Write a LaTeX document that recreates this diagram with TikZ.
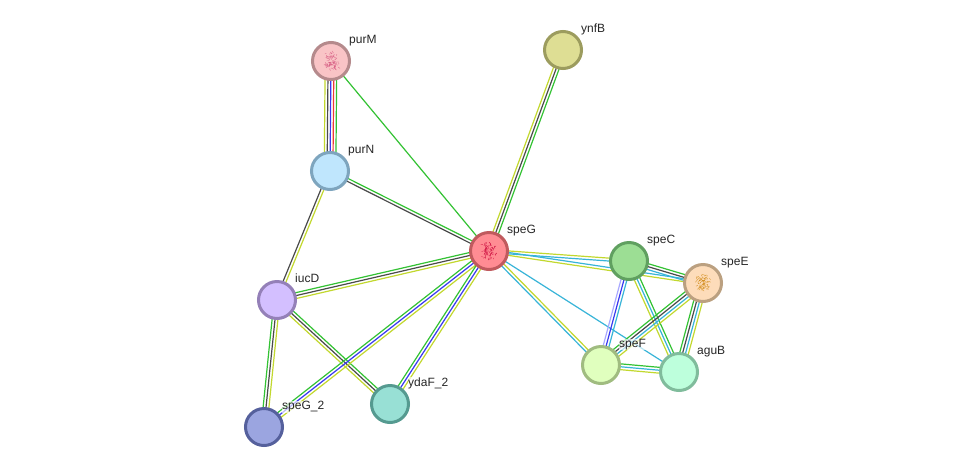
\documentclass[tikz,border=0pt]{standalone}
\usepackage{fontspec}
\setmainfont{Liberation Sans}
\usetikzlibrary{calc,backgrounds}
\definecolor{lgreen}{HTML}{33C233}
\definecolor{ldark}{HTML}{4A4A4A}
\definecolor{lyellow}{HTML}{C2D82E}
\definecolor{lblue}{HTML}{3838F0}
\definecolor{lred}{HTML}{F03838}
\definecolor{lcyan}{HTML}{38B4D8}
\definecolor{llav}{HTML}{A8A8FF}
\definecolor{purMf}{HTML}{F9C4C6}\definecolor{purMd}{HTML}{B58A8C}
\definecolor{purNf}{HTML}{BFE6FD}\definecolor{purNd}{HTML}{7EA5BE}
\definecolor{speGf}{HTML}{FF8C93}\definecolor{speGd}{HTML}{C05A5E}
\definecolor{ynfBf}{HTML}{DEDE94}\definecolor{ynfBd}{HTML}{9C9C5E}
\definecolor{iucDf}{HTML}{D3BFFF}\definecolor{iucDd}{HTML}{9480B8}
\definecolor{spgTf}{HTML}{9BA5E0}\definecolor{spgTd}{HTML}{55609C}
\definecolor{ydaFf}{HTML}{98E0D5}\definecolor{ydaFd}{HTML}{559A90}
\definecolor{speCf}{HTML}{9CDE94}\definecolor{speCd}{HTML}{60A060}
\definecolor{speEf}{HTML}{FDDCBA}\definecolor{speEd}{HTML}{BBA080}
\definecolor{speFf}{HTML}{E0FFBE}\definecolor{speFd}{HTML}{A0BC80}
\definecolor{aguBf}{HTML}{BDFFDC}\definecolor{aguBd}{HTML}{80BC9C}
\tikzset{
  x=1pt,y=-1pt,
  protein/.style={circle,minimum size=37pt,inner sep=0pt,line width=3pt},
  tag/.style={anchor=base west,inner sep=0.5pt,font=\fontsize{12}{12}\selectfont,fill=white,fill opacity=0.65,text opacity=1,text=black!85},
  evidence/.style={line width=1.2pt},
}
% Parallel evidence lines between two proteins: list of offset/colour pairs
\newcommand{\bundle}[3]{%
  \foreach \off/\col in {#3}{%
    \draw[evidence,\col] ($(#1)!\off*2.9pt!90:(#2)$) -- ($(#2)!\off*2.9pt!-90:(#1)$);
  }}
% Small ribbon scribble for proteins with a known structure
\newcommand{\fold}[3]{%
  \pgfmathsetseed{#3}
  \foreach \k in {1,...,80}{%
    \pgfmathsetmacro{\ax}{8.5*rand*(0.45+0.55*abs(rand))}
    \pgfmathsetmacro{\ay}{10*rand*(0.45+0.55*abs(rand))}
    \pgfmathsetmacro{\bx}{\ax+2.5*rand}
    \pgfmathsetmacro{\by}{\ay+2.5*rand}
    \draw[#2,line width=0.4pt,opacity=0.7] ($(#1)+(\ax,\ay)$) -- ($(#1)+(\bx,\by)$);
  }}
\begin{document}
\begin{tikzpicture}
\useasboundingbox (0,0) rectangle (976,472);

% proteins
\node[protein,fill=purMf,draw=purMd] (purM) at (331,61) {};
\node[protein,fill=purNf,draw=purNd] (purN) at (330,171) {};
\node[protein,fill=speGf,draw=speGd] (speG) at (489,251) {};
\node[protein,fill=ynfBf,draw=ynfBd] (ynfB) at (563,50) {};
\node[protein,fill=iucDf,draw=iucDd] (iucD) at (277,300) {};
\node[protein,fill=spgTf,draw=spgTd] (speGtwo) at (264,427) {};
\node[protein,fill=ydaFf,draw=ydaFd] (ydaF) at (390,404) {};
\node[protein,fill=speCf,draw=speCd] (speC) at (629,261) {};
\node[protein,fill=speEf,draw=speEd] (speE) at (703,283) {};
\node[protein,fill=speFf,draw=speFd] (speF) at (601,365) {};
\node[protein,fill=aguBf,draw=aguBd] (aguB) at (679,372) {};

% structure thumbnails
\fold{purM}{purple!70!white}{11}
\fold{speG}{purple!85!red}{23}
\fold{speE}{orange!60!olive}{37}

% evidence channels
\begin{scope}[on background layer]
  \fill[white] (0,0) rectangle (976,472);
  \bundle{purM}{purN}{2/lgreen,1/lred,0/lblue,-1/ldark,-2/lyellow}
  \bundle{purM}{speG}{0/lgreen}
  \bundle{purN}{speG}{0.5/lgreen,-0.5/ldark}
  \bundle{purN}{iucD}{0.5/lyellow,-0.5/ldark}
  \bundle{ynfB}{speG}{1/lgreen,0/ldark,-1/lyellow}
  \bundle{iucD}{speG}{1/lgreen,0/ldark,-1/lyellow}
  \bundle{iucD}{speGtwo}{1/lyellow,0/ldark,-1/lgreen}
  \bundle{iucD}{ydaF}{1/lgreen,0/ldark,-1/lyellow}
  \bundle{speGtwo}{speG}{1/lgreen,0/lblue,-1/lyellow}
  \bundle{ydaF}{speG}{1/lgreen,0/lblue,-1/lyellow}
  \bundle{speG}{speC}{0.5/lyellow,-0.5/lcyan}
  \bundle{speG}{speE}{0.5/lcyan,-0.5/lyellow}
  \bundle{speG}{speF}{0.5/lyellow,-0.5/lcyan}
  \bundle{speG}{aguB}{0/lcyan}
  \bundle{speC}{speE}{1/lgreen,0/ldark,-1/lcyan}
  \bundle{speC}{speF}{1/lcyan,0/lblue,-1/llav}
  \bundle{speC}{aguB}{1/lgreen,0/lcyan,-1/lyellow}
  \bundle{speE}{aguB}{1.5/lyellow,0.5/lcyan,-0.5/ldark,-1.5/lgreen}
  \bundle{speE}{speF}{1.5/lyellow,0.5/lcyan,-0.5/ldark,-1.5/lgreen}
  \bundle{speF}{aguB}{1/lgreen,0/lcyan,-1/lyellow}
\end{scope}

% names
\node[tag] (tpurM) at (348.5,43.5) {purM};
\node[tag] (tpurN) at (347.5,153.5) {purN};
\node[tag] (tspeG) at (506.5,233.5) {speG};
\node[tag] (tynfB) at (580.5,32.5) {ynfB};
\node[tag] (tiucD) at (294.5,282.5) {iucD};
\node[tag] (tspeGtwo) at (281.5,409.5) {speG\_2};
\node[tag] (tydaF) at (407.5,386.5) {ydaF\_2};
\node[tag] (tspeC) at (646.5,243.5) {speC};
\node[tag] (tspeE) at (720.5,265.5) {speE};
\node[tag] (tspeF) at (618.5,347.5) {speF};
\node[tag] (taguB) at (696.5,354.5) {aguB};
\end{tikzpicture}
\end{document}
